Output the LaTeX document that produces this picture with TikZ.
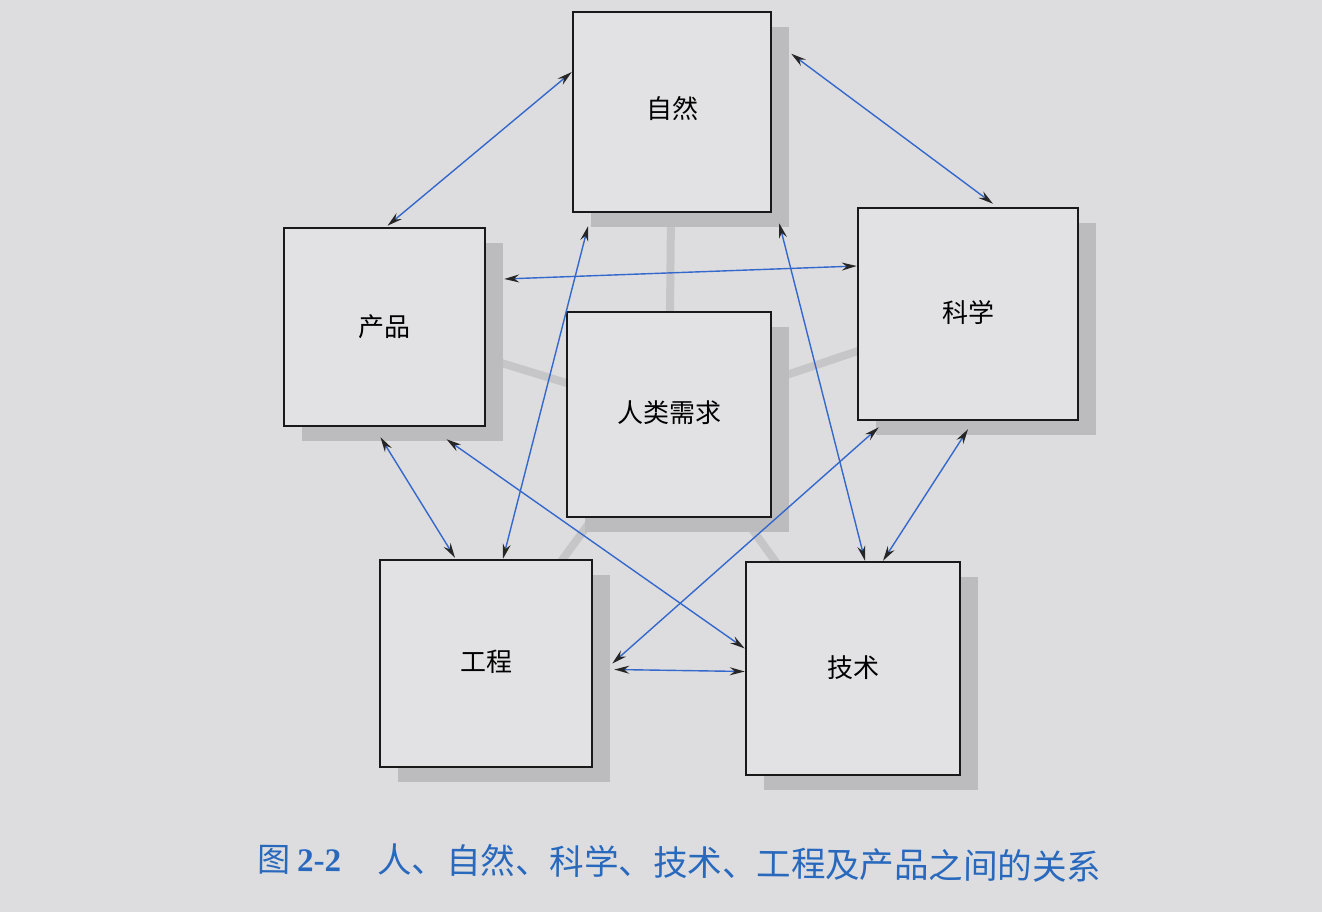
\documentclass[tikz,border=0pt]{standalone}
\usepackage{fontspec}
\setmainfont{Liberation Serif}
\newfontfamily\cjk{Noto Sans CJK SC}
\usetikzlibrary{arrows.meta,calc,backgrounds,shadows}
\definecolor{page}{RGB}{221,221,223}
\definecolor{boxfill}{RGB}{226,226,228}
\definecolor{shade}{RGB}{188,188,190}
\definecolor{conn}{RGB}{198,198,200}
\definecolor{arrowblue}{RGB}{52,104,205}
\definecolor{capblue}{RGB}{40,105,190}
\begin{document}
\begin{tikzpicture}[x=1pt,y=-1pt,
  box/.style={draw=black!90, line width=2.5pt, fill=boxfill, inner sep=0pt,
    font=\cjk\fontsize{26}{30}\selectfont,
    drop shadow={shadow xshift=18pt, shadow yshift=-15pt, fill=shade, opacity=1}},
  link/.style={draw=conn, line width=8pt},
  arr/.style={draw=arrowblue, line width=1.4pt,
    >={Stealth[length=15pt,width=8pt,inset=5pt,color=black!85]}, <->}
]
\useasboundingbox (0,0) rectangle (1322,912);

\node[box, minimum width=198pt, minimum height=200pt] (nat)  at (672,112)   {\raisebox{10pt}{自然}};
\node[box, minimum width=220pt, minimum height=212pt] (sci)  at (968,314)   {\raisebox{6pt}{科学}};
\node[box, minimum width=201pt, minimum height=198pt] (prod) at (384.5,327) {\raisebox{2pt}{产品}};
\node[box, minimum width=204pt, minimum height=205pt] (hum)  at (669,414.5) {\raisebox{6pt}{人类需求}};
\node[box, minimum width=212pt, minimum height=207pt] (eng)  at (486,663.5) {\raisebox{6pt}{工程}};
\node[box, minimum width=214pt, minimum height=213pt] (tech) at (853,668.5) {\raisebox{3pt}{技术}};

\begin{pgfonlayer}{background}
  \fill[page] (0,0) rectangle (1322,912);
  \draw[link] (hum.center) -- (nat.center);
  \draw[link] (hum.center) -- (sci.center);
  \draw[link] (hum.center) -- (prod.center);
  \draw[link] (hum.center) -- (eng.center);
  \draw[link] (hum.center) -- (tech.center);
\end{pgfonlayer}

\draw[arr] ($(prod.north)+(3,-1)$) -- ($(nat.west)+(0,-40)$);
\draw[arr] ($(nat.north east)+(19,43)$) -- ($(sci.north)+(25,-3)$);
\draw[arr] ($(prod.east)+(18,-48)$) -- ($(sci.west)+(0,-48)$);
\draw[arr] ($(nat.south)+(-84,13)$) -- ($(eng.north)+(17,0)$);
\draw[arr] ($(nat.south east)+(7,10)$) -- ($(tech.north)+(12,0)$);
\draw[arr] ($(prod.south)+(-4,10)$) -- ($(eng.north)+(-31,-1)$);
\draw[arr] ($(prod.south)+(62,12)$) -- ($(tech.west)+(0,-20)$);
\draw[arr] ($(sci.south west)+(22,6)$) -- ($(eng.east)+(19,0)$);
\draw[arr] ($(sci.south)+(0,8)$) -- ($(tech.north)+(30,0)$);
\draw[arr] ($(eng.east)+(21,6)$) -- ($(tech.west)+(0,3)$);

\node[anchor=west, text=capblue, inner sep=0pt, rotate=-0.6] (cap) at (257,858)
  {{\cjk\fontsize{33}{36}\selectfont 图}\hspace{7pt}{\bfseries\fontsize{33}{36}\selectfont 2-2}\hspace{36pt}{\cjk\fontsize{34.5}{36}\selectfont 人、自然、科学、技术、工程及产品之间的关系}};
\end{tikzpicture}
\end{document}
